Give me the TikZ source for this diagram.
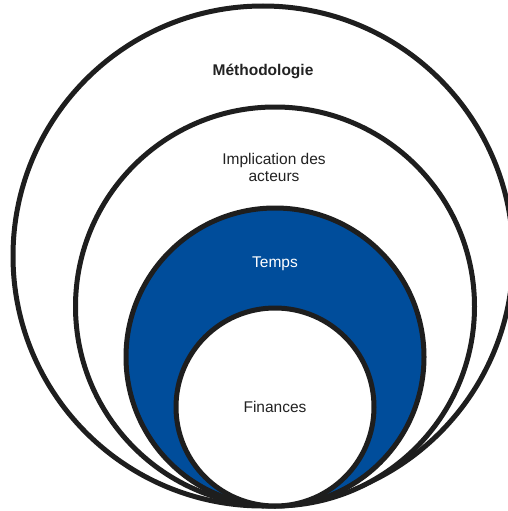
\documentclass[tikz,border=0pt]{standalone}
\usepackage{fontspec}
\setmainfont{Liberation Sans}
\definecolor{ringline}{HTML}{1E1E1E}
\definecolor{ringblue}{HTML}{004D9B}
\definecolor{txtdark}{HTML}{222222}
\tikzset{
  ring/.style={circle, draw=ringline, line width=5pt, inner sep=0pt, fill=white},
  bluering/.style={ring, fill=ringblue},
  lbl/.style={inner sep=0pt, text=txtdark, align=center, font=\fontsize{15.5}{17}\selectfont},
}
\begin{document}
\begin{tikzpicture}[x=1pt,y=-1pt]
\useasboundingbox[fill=white] (0,0) rectangle (508,511);
\node[ring, minimum size=500pt] (outer) at (263,256) {};
\node[ring, minimum size=399pt] (second) at (275,306.5) {};
\node[bluering, minimum size=298pt] (blue) at (275,357) {};
\node[ring, minimum size=198pt] (inner) at (275,407) {};
\node[lbl, font=\fontsize{15.5}{17}\selectfont\bfseries] (t1) at (263,71) {Méthodologie};
\node[lbl] (t2) at (274,167) {Implication des\\acteurs};
\node[lbl, text=white] (t3) at (275,264) {Temps};
\node[lbl] (t4) at (275,407) {Finances};
\end{tikzpicture}
\end{document}
